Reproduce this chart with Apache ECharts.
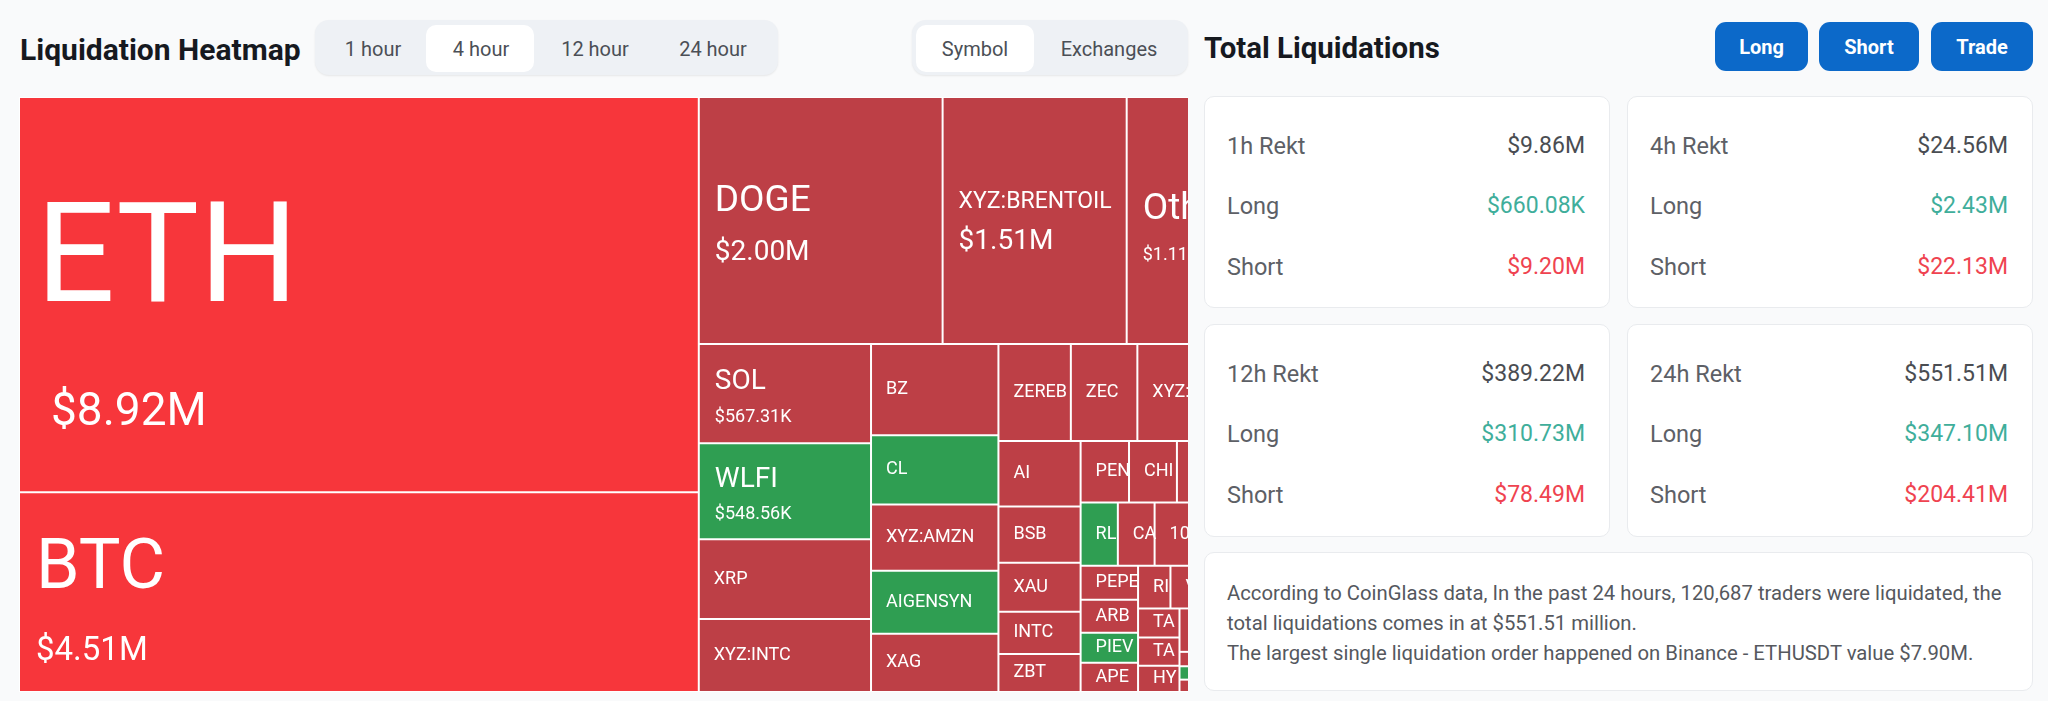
<!DOCTYPE html>
<html>
<head>
<meta charset="utf-8">
<title>Liquidation Heatmap</title>
<script src="https://cdn.jsdelivr.net/npm/echarts@6/dist/echarts.min.js"></script>
<style>
    html, body { margin: 0; padding: 0; background: #f9fafb; width: 2048px; height: 701px; overflow: hidden; font-family: Roboto, sans-serif; }
    .abs { position: absolute; box-sizing: border-box; }
    .title { font-weight: 700; font-size: 30px; color: #16191f; line-height: 34px; white-space: nowrap; }
    .title.right { font-size: 29.4px; }
    .group { background: #eef1f5; border-radius: 14px; box-shadow: 0 1px 2px rgba(0, 0, 0, .08); }
    .tab { border-radius: 10px; font-size: 20px; color: #4b4f56; text-align: center; line-height: 49px; }
    .tab.on { background: #fff; }
    .btn { background: #0c69c9; color: #fff; border-radius: 11px; font-weight: 700; font-size: 20px; text-align: center; line-height: 51px; }
    .card { background: #fff; border: 1px solid #e9ebee; border-radius: 10px; }
    .row { font-size: 23.5px; line-height: 30px; color: #5d6066; white-space: nowrap; }
    .row.val { font-size: 23px; text-align: right; color: #4a4d52; }
    .row.long { color: #3fae9b; }
    .row.short { color: #ef4350; }
    .note { font-size: 20.3px; line-height: 30px; color: #55585e; white-space: nowrap; }
    #clip { left: 19px; top: 97px; width: 1169px; height: 595px; overflow: hidden; }
    #chart { width: 1243px; height: 595px; }
</style>
</head>
<body>
<div class="abs" id="clip"><div id="chart"></div></div>
<script>
// 4 hour liquidations per symbol, in $M. Cells past the right edge are estimates
const symbols = ['ETH', 'BTC', 'DOGE', 'XYZ:BRENTOIL', 'Other', 'SOL', 'WLFI', 'XRP', 'XYZ:INTC',
    'BZ', 'CL', 'XYZ:AMZN', 'AIGENSYN', 'XAG', 'ZEREBRO', 'ZEC', 'XYZ:TSLA', 'XYZ:NVDA',
    'AI', 'BSB', 'XAU', 'INTC', 'ZBT', 'PENGU', 'CHILLGUY', 'ADA', 'LINK',
    'RLS', 'CAKE', '1000PEPE', 'SUI', 'AVAX', 'PEPE', 'ARB', 'PIEVERSE', 'APE',
    'RIVER', 'VVV', 'ENA', 'LTC', 'TAO', 'TAC', 'HYPE',
    'BNB', 'NEAR', 'ETC', 'TON', 'AAVE', 'OP', 'TIA', 'WIF', 'SEI', 'INJ', 'JUP', 'ATOM', 'DOT', 'UNI', 'FIL', 'ONDO', 'APT', 'GALA'];
const values = [8.92, 4.51, 2.00, 1.51, 1.11, 0.56731, 0.54856, 0.457, 0.417,
    0.386, 0.293, 0.280, 0.267, 0.246, 0.233, 0.214, 0.202, 0.199,
    0.179, 0.153, 0.134, 0.115, 0.104, 0.099, 0.098, 0.089, 0.085,
    0.078, 0.077, 0.076, 0.075, 0.074, 0.065, 0.063, 0.057, 0.056,
    0.046, 0.045, 0.043, 0.042, 0.040, 0.039, 0.036,
    0.031, 0.030, 0.029, 0.029, 0.014, 0.013, 0.012, 0.011, 0.010, 0.009, 0.008, 0.007, 0.006, 0.005, 0.004, 0.004, 0.004, 0.003];
// symbols where longs got hit, drawn green
const longSymbols = ['WLFI', 'CL', 'AIGENSYN', 'RLS', 'PIEVERSE', 'OP'];

const tabsTime = ['1 hour', '4 hour', '12 hour', '24 hour'];
const tabsKind = ['Symbol', 'Exchanges'];
const actions = ['Long', 'Short', 'Trade'];
const cardNames = ['1h Rekt', '4h Rekt', '12h Rekt', '24h Rekt'];
const cardTotals = ['$9.86M', '$24.56M', '$389.22M', '$551.51M'];
const cardLongs = ['$660.08K', '$2.43M', '$310.73M', '$347.10M'];
const cardShorts = ['$9.20M', '$22.13M', '$78.49M', '$204.41M'];
const noteLines = [
    'According to CoinGlass data, In the past 24 hours, 120,687 traders were liquidated, the',
    'total liquidations comes in at $551.51 million.',
    'The largest single liquidation order happened on Binance - ETHUSDT value $7.90M.'
];

// name size, name line height, value size, value line height, value indent, top offset, left offset
const bigLabels = {
    'ETH': [139, 224, 46, 70, 15, 56, 16],
    'BTC': [70, 110, 33, 53, 0, 22, 16],
    'DOGE': [37, 58, 28, 44, 0, 75, 15],
    'XYZ:BRENTOIL': [23, 38, 28, 42, 0, 85, 15],
    'Other': [37, 64, 18, 26, 0, 80, 15],
    'SOL': [28, 44, 18, 26, 0, 15, 15],
    'WLFI': [28, 43, 18, 26, 0, 14, 15]
};

function money(v) {
    return v >= 1 ? '$' + v.toFixed(2) + 'M' : '$' + (v * 1000).toFixed(2) + 'K';
}

function cellColor(name, v) {
    if (longSymbols.includes(name)) return '#2f9e52';
    return v > 4 ? '#f7363b' : '#bd3f46';
}

const treeData = symbols.map((name, i) => {
    const item = {
        name: name,
        value: values[i],
        itemStyle: { color: cellColor(name, values[i]) }
    };
    const big = bigLabels[name];
    if (big) {
        item.label = {
            formatter: '{n|' + name + '}\n{v|' + money(values[i]) + '}',
            padding: [big[5], 0, 0, big[6]],
            rich: {
                n: { fontSize: big[0], lineHeight: big[1], color: '#fff' },
                v: { fontSize: big[2], lineHeight: big[3], color: '#fff', padding: [0, 0, 0, big[4]] }
            }
        };
    }
    return item;
});

let myChart = echarts.init(document.getElementById('chart'));

let option = {
    animation: false,
    series: [{
        type: 'treemap',
        left: 0,
        top: 0,
        right: 0,
        bottom: 0,
        roam: false,
        nodeClick: false,
        breadcrumb: { show: false },
        levels: [
            { itemStyle: { borderWidth: 0, gapWidth: 0 } },
            { itemStyle: { borderColor: '#fff', borderWidth: 1, gapWidth: 0 } }
        ],
        label: {
            show: true,
            position: 'insideLeft',
            // negative right side lets a cut name run up to the cell edge
            padding: [0, -6, 0, 14],
            overflow: 'truncate',
            ellipsis: '',
            color: '#fff',
            fontFamily: 'Roboto',
            fontSize: 18
        },
        data: treeData
    }]
};

myChart.setOption(option);

// the page around the chart
function add(cls, x, y, w, h, text) {
    const el = document.createElement('div');
    el.className = 'abs ' + cls;
    el.style.cssText = 'left:' + x + 'px;top:' + y + 'px;width:' + w + 'px;height:' + h + 'px';
    if (text !== undefined) el.textContent = text;
    document.body.appendChild(el);
    return el;
}

add('title', 20, 33, 290, 34, 'Liquidation Heatmap');
add('title right', 1204, 31, 260, 34, 'Total Liquidations');

add('group', 315, 20, 463, 55);
add('tab on', 426, 25, 108, 47);
[373, 481, 595, 713].forEach((c, i) => add('tab', c - 50, 25, 100, 47, tabsTime[i]));

add('group', 912, 20, 276, 55);
add('tab on', 916, 25, 118, 47);
[975, 1109].forEach((c, i) => add('tab', c - 60, 25, 120, 47, tabsKind[i]));

[[1715, 93], [1819, 100], [1931, 102]].forEach((b, i) => add('btn', b[0], 22, b[1], 49, actions[i]));

[[1204, 96, 212], [1627, 96, 212], [1204, 324, 213], [1627, 324, 213]].forEach((c, i) => {
    add('card', c[0], c[1], 406, c[2]);
    const top = c[1] + 35;
    const left = c[0] + 23;
    const w = 358;
    add('row', left, top, w, 30, cardNames[i]);
    add('row val', left, top, w, 30, cardTotals[i]);
    add('row', left, top + 60, w, 30, 'Long');
    add('row val long', left, top + 60, w, 30, cardLongs[i]);
    add('row', left, top + 121, w, 30, 'Short');
    add('row val short', left, top + 121, w, 30, cardShorts[i]);
});

add('card', 1204, 552, 829, 139);
noteLines.forEach((t, i) => add('note', 1227, 578 + i * 30, 790, 30, t));
</script>
</body>
</html>
